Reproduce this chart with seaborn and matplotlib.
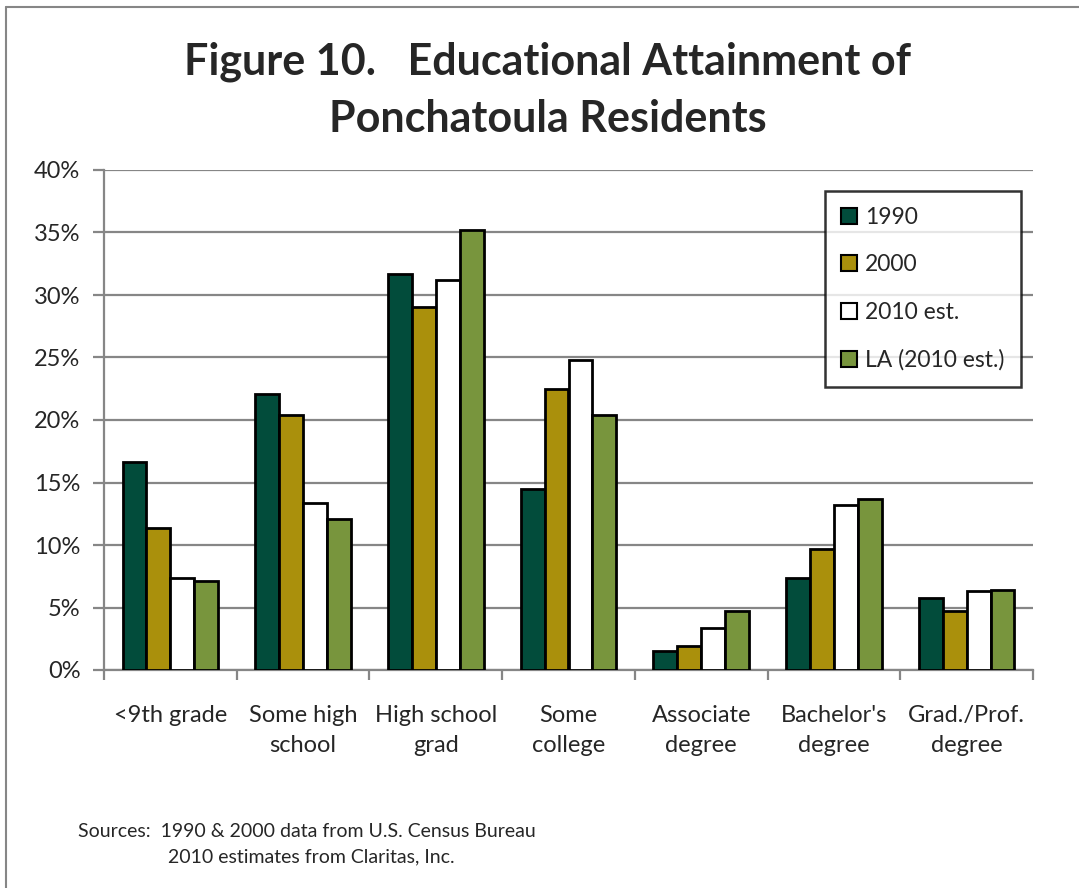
import matplotlib
matplotlib.use("Agg")
import matplotlib.pyplot as plt
import seaborn as sns
import pandas as pd
from matplotlib.lines import Line2D
from matplotlib.ticker import FuncFormatter, FixedLocator

categories = ["<9th grade", "Some high\nschool", "High school\ngrad", "Some\ncollege",
              "Associate\ndegree", "Bachelor's\ndegree", "Grad./Prof.\ndegree"]
series_names = ["1990", "2000", "2010 est.", "LA (2010 est.)"]
v1990 = [16.6, 22.1, 31.7, 14.5, 1.5, 7.4, 5.8]
v2000 = [11.4, 20.4, 29.0, 22.5, 1.9, 9.7, 4.7]
v2010 = [7.4, 13.4, 31.2, 24.8, 3.4, 13.2, 6.3]
vLA = [7.1, 12.1, 35.2, 20.4, 4.7, 13.7, 6.4]
yticks = [0, 5, 10, 15, 20, 25, 30, 35, 40]
colors = ["#024C3B", "#AA900C", "#FFFFFF", "#78953D"]

rows = []
for name, vals in zip(series_names, [v1990, v2000, v2010, vLA]):
    for c, v in zip(categories, vals):
        rows.append({"category": c, "series": name, "value": v})
df = pd.DataFrame(rows)

sns.set_style("white")
FONT = ["Lato", "DejaVu Sans"]
plt.rcParams["font.family"] = FONT

fig = plt.figure(figsize=(10.79, 8.88), dpi=100)
ax = fig.add_axes([104/1079, 1-670/888, (1033-104)/1079, 500/888])

sns.barplot(data=df, x="category", y="value", hue="series", order=categories,
            hue_order=series_names, palette=colors, saturation=1, edgecolor="black",
            linewidth=2, width=0.72, ax=ax, zorder=3, legend=True)

gray = "#868686"
ax.set_ylim(0, 40)
ax.set_xlim(-0.5, len(categories) - 0.5)
ax.set_yticks(yticks)
ax.yaxis.set_major_formatter(FuncFormatter(lambda v, p: f"{int(v)}%"))
ax.yaxis.grid(True, color=gray, linewidth=1.6, zorder=0)
ax.set_axisbelow(True)
ax.set_xlabel("")
ax.set_ylabel("")
for s in ["top", "right"]:
    ax.spines[s].set_visible(False)
for s in ["left", "bottom"]:
    ax.spines[s].set_color(gray)
    ax.spines[s].set_linewidth(1.6)
ax.tick_params(axis="y", direction="out", length=8, width=1.6, color=gray,
               labelsize=17, pad=9, left=True)
ax.tick_params(axis="x", which="major", length=0, labelsize=17, pad=25)
ax.xaxis.set_minor_locator(FixedLocator([i - 0.5 for i in range(len(categories) + 1)]))
ax.tick_params(axis="x", which="minor", direction="out", length=7, width=1.6,
               color=gray, bottom=True)
for lab in ax.get_xticklabels():
    lab.set_linespacing(1.55)
    lab.set_fontsize(17)
for lab in ax.get_yticklabels():
    lab.set_fontsize(17)

handles, labels = ax.get_legend_handles_labels()
leg = ax.legend(handles, labels, loc="upper left",
                bbox_to_anchor=((825-104)/929, 1-(191-170)/500),
                fontsize=16.5, frameon=True, fancybox=False, edgecolor="black",
                handlelength=0.7, handleheight=0.7, handletextpad=0.35,
                labelspacing=1.15, borderpad=0.7, borderaxespad=0)
leg.get_frame().set_linewidth(1.8)
leg.get_frame().set_facecolor("white")
leg.set_zorder(5)
for p in leg.get_patches():
    p.set_edgecolor("black")
    p.set_linewidth(1.5)

fig.text(548/1079, 1-62/888, "Figure 10.   Educational Attainment of", ha="center",
         va="center", fontsize=31, fontweight="bold")
fig.text(548/1079, 1-119/888, "Ponchatoula Residents", ha="center",
         va="center", fontsize=31, fontweight="bold")
fig.text(78/1079, 1-831/888, "Sources:  1990 & 2000 data from U.S. Census Bureau",
         ha="left", va="center", fontsize=14)
fig.text(168/1079, 1-857/888, "2010 estimates from Claritas, Inc.",
         ha="left", va="center", fontsize=14)

fig.add_artist(Line2D([6/1079, 6/1079], [0, 1-7/888], transform=fig.transFigure,
                      color=gray, linewidth=1.5))
fig.add_artist(Line2D([6/1079, 1], [1-7/888, 1-7/888], transform=fig.transFigure,
                      color=gray, linewidth=1.5))

fig.savefig("out.png", dpi=100)
